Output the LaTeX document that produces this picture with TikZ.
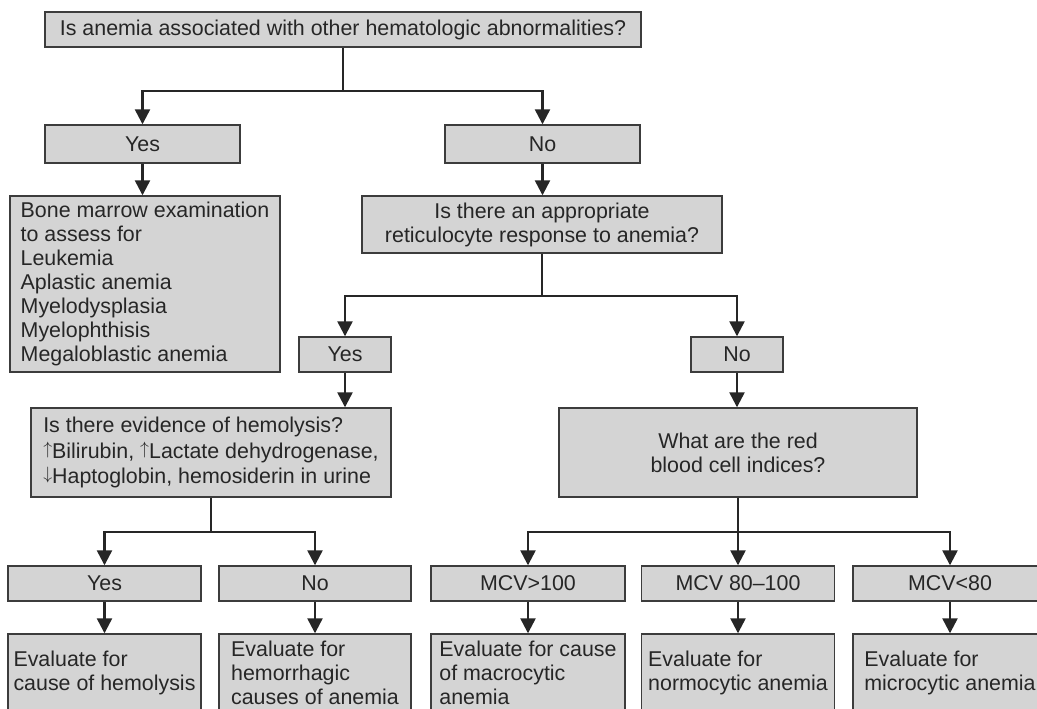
\documentclass[tikz,border=0pt]{standalone}
\usepackage{fontspec}
\setmainfont{Liberation Sans}
\usetikzlibrary{arrows.meta}
\definecolor{boxfill}{HTML}{D4D4D4}
\definecolor{boxline}{HTML}{3C3C3C}
\definecolor{ink}{HTML}{262626}
\newcommand{\chartfont}{\fontsize{21.4}{24}\selectfont}
\newcommand{\labfont}{\fontsize{21.4}{25.5}\selectfont}
% thin vertical arrows set at cap height
\newcommand{\incr}{\raisebox{0.17em}{\scalebox{0.86}{$\uparrow$}}}
\newcommand{\decr}{\raisebox{0.17em}{\scalebox{0.86}{$\downarrow$}}}
\begin{document}
\begin{tikzpicture}[x=1pt,y=-1pt,
  box/.style={draw=boxline, fill=boxfill, line width=1.4pt, inner sep=0pt,
              text=ink, font=\chartfont, align=center},
  lbox/.style={box, align=left},
  wire/.style={draw=ink, line width=2.4pt},
  flow/.style={wire, -{Triangle[width=15pt,length=15pt]}}]
\useasboundingbox (0,0) rectangle (1037,709);
\clip (0,0) rectangle (1037,709);
\fill[white] (0,0) rectangle (1037,709);

% first question and its answers
\node[box, minimum width=596, minimum height=35] (top) at (343,29.5)
  {Is anemia associated with other hematologic abnormalities?};
\node[box, minimum width=195, minimum height=38] (yes1) at (142.5,144) {Yes};
\node[box, minimum width=195, minimum height=38] (no1) at (542.5,144) {No};

% marrow work-up
\node[lbox, minimum width=270, minimum height=176] (bone) at (145,284)
  {Bone marrow examination\\to assess for\\Leukemia\\Aplastic anemia\\Myelodysplasia\\Myelophthisis\\Megaloblastic anemia};

% reticulocyte question
\node[box, minimum width=360, minimum height=57] (retic) at (542,224.5)
  {Is there an appropriate\\reticulocyte response to anemia?};
\node[box, minimum width=92, minimum height=35] (yes2) at (345,354.5) {Yes};
\node[box, minimum width=92, minimum height=35] (no2) at (737,354.5) {No};

% hemolysis and indices questions
\node[lbox, font=\labfont, minimum width=360, minimum height=89] (hemo) at (211,452.5)
  {Is there evidence of hemolysis?\\\incr Bilirubin, \incr Lactate dehydrogenase,\\\decr Haptoglobin, hemosiderin in urine};
\node[box, minimum width=358, minimum height=89] (rbc) at (738,452.5)
  {What are the red\\blood cell indices?};

% third-level answers
\node[box, minimum width=193, minimum height=35] (yes3) at (104.5,583.5) {Yes};
\node[box, minimum width=192, minimum height=35] (no3) at (315,583.5) {No};
\node[box, minimum width=194, minimum height=35] (mcv1) at (528,583.5) {MCV>100};
\node[box, minimum width=193, minimum height=35] (mcv2) at (738,583.5) {MCV 80–100};
\node[box, minimum width=194, minimum height=35] (mcv3) at (950,583.5) {MCV<80};

% evaluations
\node[lbox, minimum width=193, minimum height=78] (ev1) at (104.5,673)
  {Evaluate for\\cause of hemolysis};
\node[lbox, minimum width=192, minimum height=78] (ev2) at (315,673)
  {Evaluate for\\hemorrhagic\\causes of anemia};
\node[lbox, minimum width=194, minimum height=78] (ev3) at (528,673)
  {Evaluate for cause\\of macrocytic\\anemia};
\node[lbox, minimum width=193, minimum height=78] (ev4) at (738,673)
  {Evaluate for\\normocytic anemia};
\node[lbox, minimum width=194, minimum height=78] (ev5) at (950,673)
  {Evaluate for\\microcytic anemia};

% connectors
\coordinate (j1) at (343,91);
\draw[wire] (top.south) -- (j1);
\draw[flow] (j1) -| (yes1.north);
\draw[flow] (j1) -| (no1.north);
\draw[flow] (yes1.south) -- (yes1.south |- bone.north);
\draw[flow] (no1.south) -- (no1.south |- retic.north);

\coordinate (j2) at (542,296);
\draw[wire] (retic.south) -- (j2);
\draw[flow] (j2) -| (yes2.north);
\draw[flow] (j2) -| (no2.north);
\draw[flow] (yes2.south) -- (yes2.south |- hemo.north);
\draw[flow] (no2.south) -- (no2.south |- rbc.north);

\coordinate (j3) at (211,532);
\draw[wire] (hemo.south) -- (j3);
\draw[flow] (j3) -| (yes3.north);
\draw[flow] (j3) -| (no3.north);

\coordinate (j4) at (738,532);
\draw[wire] (rbc.south) -- (j4);
\draw[flow] (j4) -| (mcv1.north);
\draw[flow] (j4) -- (mcv2.north);
\draw[flow] (j4) -| (mcv3.north);

\draw[flow] (yes3.south) -- (ev1.north);
\draw[flow] (no3.south) -- (ev2.north);
\draw[flow] (mcv1.south) -- (ev3.north);
\draw[flow] (mcv2.south) -- (ev4.north);
\draw[flow] (mcv3.south) -- (ev5.north);
\end{tikzpicture}
\end{document}
